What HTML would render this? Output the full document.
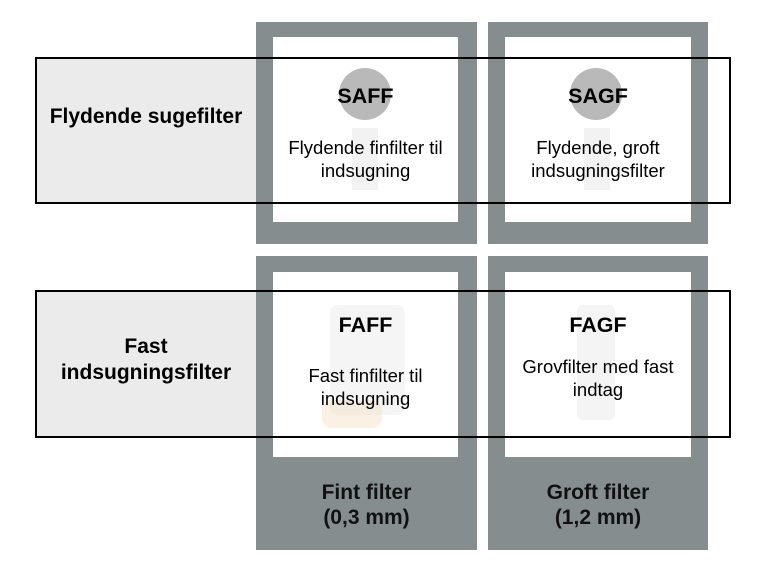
<!DOCTYPE html>
<html><head><style>
body{margin:0;width:770px;height:581px;background:#fff;position:relative;overflow:hidden;font-family:"Liberation Sans",Arial,sans-serif;}
.a{position:absolute;}
.g{background:#858d8f;}
.w{background:#fff;}
.r{border:2px solid #000;box-sizing:border-box;}
.t{position:absolute;text-align:center;color:#000;white-space:nowrap;}
.h{font-weight:bold;font-size:21.5px;}
.d{font-size:18.5px;line-height:23px;}
.f{font-weight:bold;font-size:21px;line-height:25px;color:#111;}
</style></head><body>
<div class="a" style="left:35px;top:58px;width:222px;height:146px;background:#ebebeb"></div>
<div class="a" style="left:35px;top:291px;width:222px;height:146px;background:#ebebeb"></div>
<div class="a g" style="left:256px;top:22px;width:221px;height:222px"></div>
<div class="a g" style="left:488px;top:22px;width:220px;height:222px"></div>
<div class="a g" style="left:256px;top:256px;width:221px;height:294px"></div>
<div class="a g" style="left:488px;top:256px;width:220px;height:294px"></div>
<div class="a w" style="left:273px;top:37px;width:185px;height:185px"></div>
<div class="a w" style="left:505px;top:37px;width:186px;height:185px"></div>
<div class="a w" style="left:273px;top:272px;width:185px;height:185px"></div>
<div class="a w" style="left:505px;top:272px;width:186px;height:185px"></div>
<!-- faint product images -->
<div class="a" style="left:339px;top:68px;width:52px;height:52px;border-radius:50%;background:#8a8a8a;opacity:.6"></div>
<div class="a" style="left:352px;top:128px;width:26px;height:62px;background:#e6e6e6;opacity:.5"></div>
<div class="a" style="left:570px;top:68px;width:52px;height:52px;border-radius:50%;background:#8a8a8a;opacity:.6"></div>
<div class="a" style="left:584px;top:128px;width:26px;height:62px;background:#e6e6e6;opacity:.5"></div>
<div class="a" style="left:330px;top:305px;width:75px;height:110px;background:#ececec;opacity:.5;border-radius:8px"></div>
<div class="a" style="left:322px;top:400px;width:60px;height:28px;background:#f5e2c8;opacity:.5;border-radius:10px"></div>
<div class="a" style="left:577px;top:305px;width:38px;height:115px;background:#eaeaea;opacity:.5;border-radius:6px"></div>
<div class="a r" style="left:35px;top:57px;width:696px;height:147px"></div>
<div class="a r" style="left:35px;top:290px;width:696px;height:148px"></div>
<div class="t" style="left:35px;top:105px;width:222px;font-weight:bold;font-size:21px">Flydende sugefilter</div>
<div class="t" style="left:35px;top:334px;width:222px;font-weight:bold;font-size:21px;line-height:26px">Fast<br>indsugningsfilter</div>
<div class="t h" style="left:273px;top:84px;width:185px">SAFF</div>
<div class="t d" style="left:273px;top:136px;width:185px">Flydende finfilter til<br>indsugning</div>
<div class="t h" style="left:505px;top:84px;width:186px">SAGF</div>
<div class="t d" style="left:505px;top:136px;width:186px">Flydende, groft<br>indsugningsfilter</div>
<div class="t h" style="left:273px;top:313px;width:185px">FAFF</div>
<div class="t d" style="left:273px;top:364px;width:185px">Fast finfilter til<br>indsugning</div>
<div class="t h" style="left:505px;top:313px;width:186px">FAGF</div>
<div class="t d" style="left:505px;top:355px;width:186px">Grovfilter med fast<br>indtag</div>
<div class="t f" style="left:256px;top:480px;width:221px">Fint filter<br>(0,3 mm)</div>
<div class="t f" style="left:488px;top:480px;width:220px">Groft filter<br>(1,2 mm)</div>
</body></html>
